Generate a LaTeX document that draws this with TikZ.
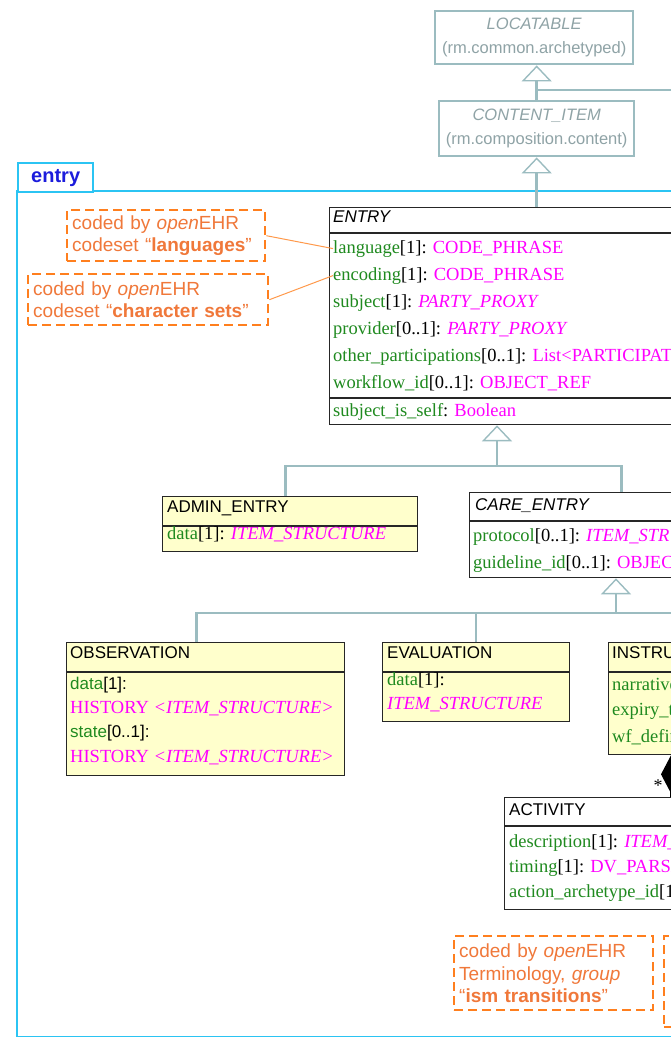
\documentclass[tikz,border=0pt]{standalone}
\usepackage{fontspec}
\setmainfont{Liberation Serif}
\setsansfont{Liberation Sans}
\usetikzlibrary{positioning, arrows.meta}

\definecolor{pkgline}{HTML}{2BC4F3}
\definecolor{pkgname}{HTML}{1C1CDC}
\definecolor{inhline}{HTML}{9BBCC0}
\definecolor{extname}{HTML}{8FA3A6}
\definecolor{noteline}{HTML}{FF7F1E}
\definecolor{notename}{HTML}{F0783A}
\definecolor{attrname}{HTML}{1F8A1F}
\definecolor{typename}{HTML}{FF00FF}
\definecolor{classfill}{HTML}{FFFFCC}

\newcommand{\attr}[3]{\textcolor{attrname}{#1}[#2]: \textcolor{typename}{#3}}
\newcommand{\openehr}{\textit{open}EHR}

\tikzset{
  classbox/.style={draw=black!85, line width=1.3pt, inner sep=0pt, anchor=north west},
  concrete/.style={classbox, fill=classfill},
  abstract/.style={classbox, fill=white},
  compartment/.style={draw=black!85, line width=1.3pt},
  classname/.style={anchor=base west, inner sep=0pt, font=\sffamily\fontsize{17}{20}\selectfont},
  abstractname/.style={classname, font=\sffamily\itshape\fontsize{17}{20}\selectfont},
  attribute/.style={anchor=base west, inner sep=0pt, font=\fontsize{18.5}{22}\selectfont},
  extclass/.style={draw=inhline, line width=2.4pt, fill=white, inner sep=0pt,
    anchor=north west, align=center, text=extname,
    font=\sffamily\fontsize{16.5}{24}\selectfont},
  inheritline/.style={draw=inhline, line width=2.6pt},
  genline/.style={inheritline, -{Triangle[open, length=16pt, width=30pt, line width=1.4pt]}},
  compose/.style={draw=black, line width=1.2pt, {Diamond[fill=black, length=38pt, width=20pt]}-},
  multiplicity/.style={inner sep=0pt, font=\fontsize{18}{20}\selectfont},
  notebox/.style={draw=noteline, line width=2.4pt, dash pattern=on 9pt off 5pt,
    fill=white, inner ysep=0pt, inner xsep=5pt, anchor=north west, align=left,
    text=notename, font=\sffamily\fontsize{19}{22.5}\selectfont},
  notelink/.style={draw=noteline!80, line width=1pt},
  pkgframe/.style={draw=pkgline, line width=2.4pt},
  pkgtab/.style={pkgframe, fill=white, inner sep=0pt, anchor=north west,
    text=pkgname, font=\sffamily\bfseries\fontsize{20}{22}\selectfont},
}

\begin{document}
\begin{tikzpicture}[x=1pt, y=-1pt]
  \useasboundingbox (0,0) rectangle (671,1037);
  \clip (0,0) rectangle (671,1037);

  % package
  \draw[pkgframe] (17,191) rectangle (720,1037);
  \node[pkgtab, minimum width=75pt, minimum height=29pt] (pkgtab) at (17,162) {entry};

  % classes from other packages
  \node[extclass, minimum width=198pt, minimum height=53pt] (locatable) at (434,10)
    {\textit{LOCATABLE}\\(rm.common.archetyped)};
  \node[extclass, minimum width=195pt, minimum height=55pt] (contentitem) at (438,100)
    {\textit{CONTENT\_ITEM}\\(rm.composition.content)};

  % ENTRY
  \node[abstract, minimum width=440pt, minimum height=217pt] (entry) at (329,207) {};
  \node[abstractname] (entry-name) at (333,222) {ENTRY};
  \draw[compartment] (entry.west |- 0,233) -- (entry.east |- 0,233);
  \draw[compartment] (entry.west |- 0,398) -- (entry.east |- 0,398);
  \node[attribute] (entry-language) at (333,253) {\attr{language}{1}{CODE\_PHRASE}};
  \node[attribute] (entry-encoding) at (333,280) {\attr{encoding}{1}{CODE\_PHRASE}};
  \node[attribute] (entry-subject) at (333,307) {\attr{subject}{1}{\textit{PARTY\_PROXY}}};
  \node[attribute] (entry-provider) at (333,334) {\attr{provider}{0..1}{\textit{PARTY\_PROXY}}};
  \node[attribute] (entry-other) at (333,361) {\attr{other\_participations}{0..1}{List<PARTICIPATION>}};
  \node[attribute] (entry-workflow) at (333,388) {\attr{workflow\_id}{0..1}{OBJECT\_REF}};
  \node[attribute] (entry-self) at (333,416)
    {\textcolor{attrname}{subject\_is\_self}: \textcolor{typename}{Boolean}};

  % ADMIN_ENTRY
  \node[concrete, minimum width=255pt, minimum height=55pt] (admin) at (162,496) {};
  \node[classname] (admin-name) at (167,512) {ADMIN\_ENTRY};
  \draw[compartment] (admin.west |- 0,526) -- (admin.east |- 0,526);
  \node[attribute] (admin-data) at (167,539) {\attr{data}{1}{\textit{ITEM\_STRUCTURE}}};

  % CARE_ENTRY
  \node[abstract, minimum width=304pt, minimum height=85pt] (care) at (469,492) {};
  \node[abstractname] (care-name) at (475,510) {CARE\_ENTRY};
  \draw[compartment] (care.west |- 0,521) -- (care.east |- 0,521);
  \node[attribute] (care-protocol) at (473,541) {\attr{protocol}{0..1}{\textit{ITEM\_STRUCTURE}}};
  \node[attribute] (care-guideline) at (473,568) {\attr{guideline\_id}{0..1}{OBJECT\_REF}};

  % OBSERVATION
  \node[concrete, minimum width=278pt, minimum height=133pt] (observation) at (66,642) {};
  \node[classname] (observation-name) at (70,658) {OBSERVATION};
  \draw[compartment] (observation.west |- 0,672) -- (observation.east |- 0,672);
  \node[attribute] (observation-data) at (70,689)
    {\textsf{\fontsize{17}{20}\selectfont\textcolor{attrname}{data}[1]:}};
  \node[attribute] (observation-datatype) at (70,713)
    {\textcolor{typename}{HISTORY \textit{<ITEM\_STRUCTURE>}}};
  \node[attribute] (observation-state) at (70,737)
    {\textsf{\fontsize{17}{20}\selectfont\textcolor{attrname}{state}[0..1]:}};
  \node[attribute] (observation-statetype) at (70,762)
    {\textcolor{typename}{HISTORY \textit{<ITEM\_STRUCTURE>}}};

  % EVALUATION
  \node[concrete, minimum width=187pt, minimum height=79pt] (evaluation) at (382,642) {};
  \node[classname] (evaluation-name) at (387,658) {EVALUATION};
  \draw[compartment] (evaluation.west |- 0,672) -- (evaluation.east |- 0,672);
  \node[attribute] (evaluation-data) at (387,685) {\textcolor{attrname}{data}[1]:};
  \node[attribute] (evaluation-datatype) at (387,709)
    {\textcolor{typename}{\textit{ITEM\_STRUCTURE}}};

  % INSTRUCTION
  \node[concrete, minimum width=200pt, minimum height=112pt] (instruction) at (608,642) {};
  \node[classname] (instruction-name) at (612,658) {INSTRUCTION};
  \draw[compartment] (instruction.west |- 0,672) -- (instruction.east |- 0,672);
  \node[attribute] (instruction-narrative) at (612,690) {\attr{narrative}{1}{DV\_TEXT}};
  \node[attribute] (instruction-expiry) at (612,715) {\attr{expiry\_time}{0..1}{DV\_DATE\_TIME}};
  \node[attribute] (instruction-wf) at (612,742) {\attr{wf\_definition}{0..1}{DV\_PARSABLE}};

  % ACTIVITY
  \node[abstract, minimum width=300pt, minimum height=112pt] (activity) at (504,797) {};
  \node[classname] (activity-name) at (509,815) {ACTIVITY};
  \draw[compartment] (activity.west |- 0,826) -- (activity.east |- 0,826);
  \node[attribute] (activity-description) at (509,847) {\attr{description}{1}{\textit{ITEM\_STRUCTURE}}};
  \node[attribute] (activity-timing) at (509,872) {\attr{timing}{1}{DV\_PARSABLE}};
  \node[attribute] (activity-action) at (509,897) {\attr{action\_archetype\_id}{1}{String}};

  % generalisations
  \coordinate (archetyped-sib) at (700,90);
  \coordinate (entry-tree) at (497,466);
  \coordinate (care-tree) at (616,613);
  \coordinate (care-tree-end) at (700,613);
  \draw[genline] (contentitem.north) -- (contentitem.north |- locatable.south);
  \draw[inheritline] (archetyped-sib) -- (contentitem.north |- archetyped-sib);
  \draw[genline] (entry.north -| contentitem.south) -- (contentitem.south);
  \draw[genline] (entry-tree) -- (entry.south -| entry-tree);
  \draw[inheritline] ([xshift=-4.5pt]admin.north) |- (entry-tree) -| (care.north);
  \draw[genline] (care-tree) -- (care.south -| care-tree);
  \draw[inheritline] ([xshift=-9pt]observation.north) |- (care-tree-end);
  \draw[inheritline] (evaluation.north) -- (evaluation.north |- care-tree);

  % composition
  \coordinate (instr-act) at (671,0);
  \draw[compose] (instruction.south -| instr-act) -- (activity.north -| instr-act);
  \node[multiplicity] (activity-mult) at (658,786) {*};

  % notes
  \node[notebox, minimum width=198pt, minimum height=51pt, text width=188pt] (note-lang) at (66,209)
    {coded by \openehr\\codeset “\textbf{languages}”};
  \node[notebox, minimum width=240pt, minimum height=51pt, text width=230pt] (note-enc) at (27,273)
    {coded by \openehr\\codeset “\textbf{character sets}”};
  \node[notebox, minimum width=199pt, minimum height=74pt, text width=189pt] (note-ism) at (453,935)
    {coded by \openehr\\Terminology, \textit{group}\\“\textbf{ism transitions}”};
  \node[notebox, minimum width=160pt, minimum height=91pt] (note-next) at (663,935) {};
  \draw[notelink] (note-lang.east) -- (entry-language.west);
  \draw[notelink] (note-enc.east) -- (entry-encoding.west);
\end{tikzpicture}
\end{document}
